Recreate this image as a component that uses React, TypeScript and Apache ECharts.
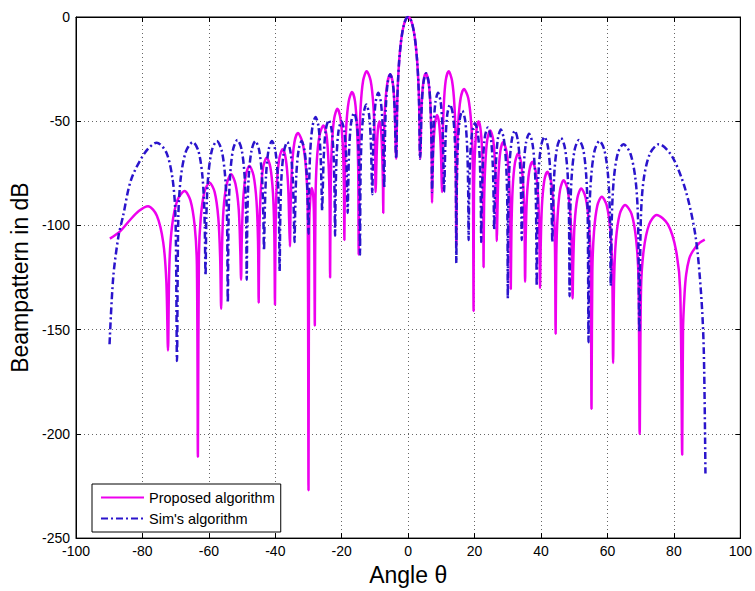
import React, { useEffect, useRef } from "react";
import * as echarts from "echarts";

const FONT = "'Liberation Sans', Arial, Helvetica, sans-serif";
const MAGENTA = "#ee00ee";
const BLUE = "#2a14cc";

const seriesNames = ["Proposed algorithm", "Sim's algorithm"];
const xRange = [-100, 100, 20];
const yRange = [-250, 0, 50];

// shared main lobe (both designs)
const mainLobe: [number, number][] = [
  [-3.31, -42.6], [-3.06, -30.8], [-2.7, -20.9], [-2.25, -13.1], [-1.8, -7.8], [-1.35, -4.2], [-0.9, -1.8], [-0.45, -0.45], [0, 0],
  [0.45, -0.45], [0.9, -1.8], [1.35, -4.2], [1.8, -7.8], [2.25, -13.1], [2.7, -20.9], [3.06, -30.8], [3.31, -42.6],
];

// Sim's algorithm, negative angles
const simLeft: [number, number][] = [
  [-89.9, -157], [-88.8, -125], [-87.2, -105], [-85.9, -96], [-83.4, -78], [-79.2, -65], [-75.7, -60.3], [-72.8, -65], [-70.9, -78], [-70.05, -96], [-69.6, -165],
  [-69.2, -96], [-68.45, -77], [-66.9, -64.5], [-64.8, -60], [-63.1, -64.5], [-61.9, -77], [-61.3, -96], [-61.0, -124],
  [-60.75, -95.5], [-60.2, -76.5], [-59.1, -64], [-57.6, -59.5], [-56.15, -64], [-55.1, -76.5], [-54.55, -95.5], [-54.3, -137],
  [-54.05, -95], [-53.6, -76], [-52.7, -63.5], [-51.4, -59], [-50.15, -63.5], [-49.25, -76], [-48.8, -95], [-48.6, -126],
  [-48.4, -95.5], [-48.0, -76.5], [-47.15, -64], [-46.0, -59.5], [-44.85, -64], [-44.0, -76.5], [-43.6, -95.5], [-43.4, -112],
  [-43.2, -95.5], [-42.8, -76.5], [-42.05, -64], [-41.0, -59.5], [-40.0, -64], [-39.25, -76.5], [-38.9, -95.5], [-38.7, -122],
  [-38.5, -96], [-38.15, -77], [-37.4, -64.5], [-36.4, -60], [-35.45, -64.5], [-34.75, -77], [-34.4, -96], [-34.2, -108],
  [-34.05, -95.5], [-33.7, -76.5], [-33.0, -64], [-32.1, -59.5], [-31.2, -64], [-30.5, -76.5], [-30.15, -95.5], [-30.0, -104],
  [-29.85, -84], [-29.5, -65], [-28.8, -52.5], [-27.9, -48], [-27.0, -52.5], [-26.4, -65], [-26.05, -84], [-25.9, -93],
  [-25.75, -85.5], [-25.4, -66.5], [-24.8, -54], [-23.9, -49.5], [-23.05, -54], [-22.45, -66.5], [-22.15, -85.5], [-22.0, -105],
  [-21.85, -86], [-21.55, -67], [-20.95, -54.5], [-20.1, -50], [-19.25, -54.5], [-18.65, -67], [-18.35, -86], [-18.2, -94],
  [-18.05, -82], [-17.75, -63], [-17.15, -50.5], [-16.3, -46], [-15.5, -50.5], [-14.95, -63], [-14.65, -82], [-14.5, -114],
  [-14.35, -78], [-14.05, -59], [-13.45, -46.5], [-12.6, -42], [-11.8, -46.5], [-11.25, -59], [-10.95, -78], [-10.8, -85],
  [-10.65, -72.4], [-10.35, -53.4], [-9.8, -41], [-9.0, -36.4], [-8.2, -41], [-7.65, -53.4], [-7.35, -72.4], [-7.2, -82],
  [-7.05, -63.5], [-6.75, -44.5], [-6.2, -32], [-5.4, -27.5], [-4.6, -32], [-4.05, -44.5], [-3.75, -63.5], [-3.6, -68],
];

// Sim's algorithm, positive angles
const simRight: [number, number][] = [
  [3.6, -68], [3.75, -63], [4.05, -44], [4.6, -31.5], [5.4, -27], [6.2, -31.5], [6.75, -44], [7.05, -63], [7.2, -84],
  [7.35, -72.4], [7.65, -53.4], [8.2, -41], [9.0, -36.4], [9.8, -41], [10.35, -53.4], [10.65, -72.4], [10.8, -84],
  [10.95, -78], [11.25, -59], [11.8, -46.5], [12.6, -42], [13.45, -46.5], [14.05, -59], [14.35, -78], [14.5, -118],
  [14.65, -81], [14.95, -62], [15.5, -49.5], [16.3, -45], [17.15, -49.5], [17.75, -62], [18.05, -81], [18.2, -107],
  [18.35, -87], [18.65, -68], [19.25, -55.5], [20.1, -51], [20.95, -55.5], [21.55, -68], [21.85, -87], [22.0, -108],
  [22.15, -89], [22.5, -70], [23.1, -57.5], [24.0, -53], [24.85, -57.5], [25.45, -70], [25.75, -89], [25.9, -102],
  [26.05, -90], [26.4, -71], [27.0, -58.5], [27.9, -54], [28.8, -58.5], [29.5, -71], [29.85, -90], [30.0, -135],
  [30.15, -90.5], [30.5, -71.5], [31.2, -59], [32.1, -54.5], [33.0, -59], [33.7, -71.5], [34.05, -90.5], [34.2, -107],
  [34.4, -92], [34.75, -73], [35.45, -60.5], [36.4, -56], [37.4, -60.5], [38.15, -73], [38.5, -92], [38.7, -129],
  [38.9, -93.5], [39.25, -74.5], [40.0, -62], [41.0, -57.5], [42.05, -62], [42.8, -74.5], [43.2, -93.5], [43.4, -108],
  [43.6, -94], [44.0, -75], [44.85, -62.5], [46.0, -58], [47.15, -62.5], [48.0, -75], [48.4, -94], [48.6, -134],
  [48.8, -95], [49.25, -76], [50.15, -63.5], [51.4, -59], [52.7, -63.5], [53.6, -76], [54.05, -95], [54.3, -156],
  [54.55, -95.5], [55.1, -76.5], [56.15, -64], [57.6, -59.5], [59.1, -64], [60.2, -76.5], [60.75, -95.5], [61.0, -129],
  [61.3, -97], [61.9, -78], [63.1, -65.5], [64.8, -61], [66.9, -65.5], [68.45, -78], [69.2, -97], [69.6, -151],
  [70.05, -97], [70.9, -78], [72.8, -65.5], [75.5, -61], [79.5, -67], [83.5, -83], [86.5, -105], [88.2, -133], [89.0, -160], [89.5, -219],
];

// Proposed algorithm, negative angles
const proposedLeft: [number, number][] = [
  [-89.8, -106.3], [-86.8, -103], [-83.8, -97.5], [-81.0, -93], [-78.3, -90.8], [-75.65, -95.3], [-73.75, -108], [-72.8, -127], [-72.3, -160],
  [-71.9, -119.5], [-71.1, -100.5], [-69.5, -88], [-67.3, -83.5], [-65.55, -88], [-64.25, -100.5], [-63.6, -119.5], [-63.3, -211],
  [-63.0, -115.5], [-62.45, -96.5], [-61.35, -84], [-59.8, -79.5], [-58.25, -84], [-57.15, -96.5], [-56.6, -115.5], [-56.3, -140],
  [-56.05, -111.5], [-55.6, -92.5], [-54.6, -80], [-53.3, -75.5], [-52.0, -80], [-51.0, -92.5], [-50.55, -111.5], [-50.3, -126],
  [-50.1, -107.5], [-49.7, -88.5], [-48.9, -76], [-47.8, -71.5], [-46.55, -76], [-45.65, -88.5], [-45.2, -107.5], [-45.0, -137],
  [-44.8, -103.5], [-44.4, -84.5], [-43.65, -72], [-42.6, -67.5], [-41.5, -72], [-40.7, -84.5], [-40.3, -103.5], [-40.1, -138],
  [-39.9, -99.5], [-39.55, -80.5], [-38.8, -68], [-37.8, -63.5], [-36.85, -68], [-36.15, -80.5], [-35.8, -99.5], [-35.6, -110],
  [-35.4, -91.7], [-35.0, -72.7], [-34.25, -60.2], [-33.2, -55.7], [-31.8, -60.2], [-30.75, -72.7], [-30.25, -91.7], [-30.0, -227],
  [-29.8, -101], [-29.45, -86.5], [-29.0, -82], [-28.55, -86.5], [-28.3, -101], [-28.1, -148],
  [-27.9, -88], [-27.5, -69], [-26.65, -56.5], [-25.5, -52], [-24.6, -56.5], [-24.0, -69], [-23.65, -88], [-23.5, -125],
  [-23.3, -80], [-22.95, -61], [-22.25, -48.5], [-21.3, -44], [-20.4, -48.5], [-19.7, -61], [-19.35, -80], [-19.2, -107],
  [-19.0, -72], [-18.65, -53], [-17.9, -40.5], [-16.9, -36], [-16.0, -40.5], [-15.4, -53], [-15.05, -72], [-14.9, -114],
  [-14.7, -62], [-14.3, -43], [-13.55, -30.5], [-12.5, -26], [-11.3, -30.5], [-10.45, -43], [-10.0, -62], [-9.8, -84],
  [-9.7, -80], [-9.5, -67], [-9.15, -54.5], [-8.65, -50], [-8.15, -54.5], [-7.8, -67], [-7.6, -80], [-7.5, -94],
  [-7.35, -63.5], [-7.0, -44.5], [-6.3, -32], [-5.4, -27.5], [-4.6, -32], [-4.05, -44.5], [-3.75, -63.5], [-3.6, -68],
];

// Proposed algorithm, positive angles
const proposedRight: [number, number][] = [
  [3.6, -68], [3.75, -63], [4.0, -44], [4.55, -31.5], [5.3, -27], [6.15, -31.5], [6.75, -44], [7.05, -63], [7.2, -89],
  [7.3, -80], [7.55, -64], [8.05, -51.5], [8.7, -47], [9.35, -51.5], [9.85, -64], [10.1, -80], [10.2, -84],
  [10.35, -62], [10.7, -43], [11.3, -30.5], [12.2, -26], [13.2, -30.5], [13.95, -43], [14.3, -62], [14.5, -110],
  [14.7, -70.5], [15.05, -51.5], [15.8, -39], [16.8, -34.5], [18.1, -39], [19.0, -51.5], [19.45, -70.5], [19.7, -141],
  [19.8, -86], [20.05, -67], [20.55, -54.5], [21.2, -50], [21.85, -54.5], [22.35, -67], [22.6, -86], [22.7, -120],
  [22.85, -90.5], [23.2, -71.5], [23.8, -59], [24.7, -54.5], [25.6, -59], [26.2, -71.5], [26.55, -90.5], [26.7, -107.5],
  [26.85, -96], [27.15, -77], [27.75, -64.5], [28.6, -60], [29.6, -64.5], [30.35, -77], [30.7, -96], [30.9, -130.5],
  [31.1, -101.5], [31.45, -82.5], [32.15, -70], [33.1, -65.5], [34.0, -70], [34.7, -82.5], [35.05, -101.5], [35.2, -127],
  [35.4, -105.5], [35.75, -86.5], [36.45, -74], [37.4, -69.5], [38.4, -74], [39.15, -86.5], [39.5, -105.5], [39.7, -130],
  [39.9, -110.3], [40.25, -91.3], [40.95, -78.8], [41.9, -74.3], [43.0, -78.8], [43.8, -91.3], [44.2, -110.3], [44.4, -152],
  [44.6, -114.3], [45.0, -95.3], [45.75, -82.8], [46.8, -78.3], [48.0, -82.8], [48.85, -95.3], [49.3, -114.3], [49.5, -135],
  [49.7, -118.3], [50.1, -99.3], [50.95, -86.8], [52.1, -82.3], [53.45, -86.8], [54.45, -99.3], [54.95, -118.3], [55.2, -188],
  [55.45, -122], [55.95, -103], [56.95, -90.5], [58.3, -86.2], [59.8, -90.5], [60.9, -103], [61.45, -122], [61.7, -166],
  [62.0, -126], [62.55, -107], [63.7, -94.5], [65.3, -90.2], [67.25, -94.5], [68.65, -107], [69.35, -126], [69.7, -200],
  [70.1, -131], [70.9, -112], [72.55, -99.5], [74.8, -95], [78.2, -99.5], [80.65, -112], [81.9, -131], [82.5, -210],
  [82.75, -150], [83.2, -133], [83.7, -123.5], [84.6, -116], [85.7, -112.3], [87.7, -108.4], [89.3, -106.8],
];

const proposedData = [...proposedLeft, ...mainLobe, ...proposedRight];
const simData = [...simLeft, ...mainLobe, ...simRight];

const gridLine = { show: true, lineStyle: { color: "#666", type: [1, 3] as number[], width: 1 } };
const axisLine = { show: true, onZero: false, lineStyle: { color: "#000", width: 1 } };
const axisTick = { show: true, inside: true, length: 5, lineStyle: { color: "#000" } };
const labelStyle = { color: "#000", fontSize: 14, fontFamily: FONT };

export default function App() {
  const ref = useRef<HTMLDivElement>(null);
  useEffect(() => {
    if (!ref.current) return;
    const chart = echarts.init(ref.current, undefined, { renderer: "svg" });
    chart.setOption({
      animation: false,
      backgroundColor: "#fff",
      grid: { left: 76, right: 13, top: 17, bottom: 49, show: true, borderColor: "#000", borderWidth: 1, backgroundColor: "#fff" },
      legend: {
        show: true,
        orient: "vertical",
        left: 92,
        top: 484,
        itemWidth: 43,
        itemHeight: 14,
        itemGap: 6,
        padding: [6, 6, 6, 8],
        borderColor: "#000",
        borderWidth: 1,
        borderRadius: 0,
        backgroundColor: "#fff",
        itemStyle: { opacity: 0 },
        textStyle: { color: "#000", fontSize: 14.5, fontFamily: FONT },
        data: seriesNames,
      },
      xAxis: [
        {
          type: "value", min: xRange[0], max: xRange[1], interval: xRange[2], position: "bottom",
          axisLine, axisTick, splitLine: gridLine,
          axisLabel: { ...labelStyle, margin: 6 },
          name: "Angle θ", nameLocation: "middle", nameGap: 24,
          nameTextStyle: { color: "#000", fontSize: 23, fontFamily: FONT },
        },
        {
          type: "value", min: xRange[0], max: xRange[1], interval: xRange[2], position: "top",
          axisLine, axisTick, splitLine: { show: false }, axisLabel: { show: false },
        },
      ],
      yAxis: [
        {
          type: "value", min: yRange[0], max: yRange[1], interval: yRange[2], position: "left",
          axisLine, axisTick, splitLine: gridLine,
          axisLabel: { ...labelStyle, margin: 6 },
          name: "Beampattern in dB", nameLocation: "middle", nameGap: 43,
          nameTextStyle: { color: "#000", fontSize: 23, fontFamily: FONT },
        },
        {
          type: "value", min: yRange[0], max: yRange[1], interval: yRange[2], position: "right",
          axisLine, axisTick, splitLine: { show: false }, axisLabel: { show: false },
        },
      ],
      series: [
        {
          name: seriesNames[0], type: "line", data: proposedData, symbol: "none", smooth: 0.3,
          lineStyle: { color: MAGENTA, width: 2.5 }, itemStyle: { color: MAGENTA }, z: 2,
        },
        {
          name: seriesNames[1], type: "line", data: simData, symbol: "none", smooth: 0.3,
          lineStyle: { color: BLUE, width: 2.5, type: [7, 3, 2, 3] }, itemStyle: { color: BLUE }, z: 3,
        },
      ],
    });
    return () => chart.dispose();
  }, []);
  return <div ref={ref} style={{ position: "fixed", left: 0, top: 0, width: 755, height: 591, background: "#fff" }} />;
}
